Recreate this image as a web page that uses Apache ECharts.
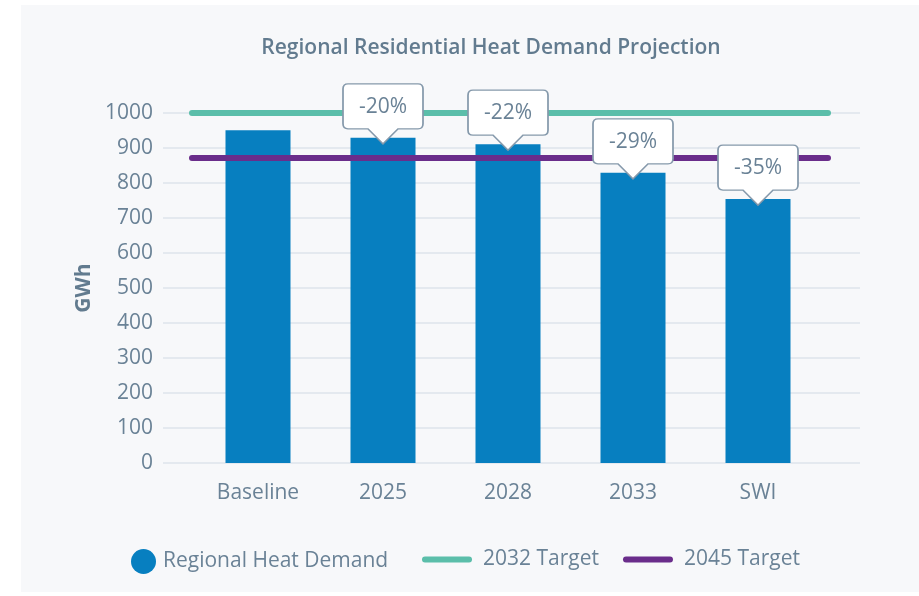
<!DOCTYPE html>
<html>
<head>
<meta charset="utf-8">
<script src="https://cdn.jsdelivr.net/npm/echarts@6/dist/echarts.min.js"></script>
<style>
  html, body { margin: 0; padding: 0; background: #fff; }
  #chart { width: 919px; height: 596px; }
</style>
</head>
<body>
<div id="chart"></div>
<script>
// heat demand projection chart
const categories = ['Baseline', '2025', '2028', '2033', 'SWI']
const demand = [951, 929, 911, 829, 754]
const changeLabels = ['', '-20%', '-22%', '-29%', '-35%']
const target2032 = 1000
const target2045 = 872
const yTicks = { min: 0, max: 1000, interval: 100 }

const textColor = '#6a8296'
const font = 'Open Sans'

// callout box: 80x45 with a pointer 15 tall
const calloutPath = 'path://M5,0 L75,0 Q80,0 80,5 L80,40 Q80,45 75,45 L55,45 L40,60 L25,45 L5,45 Q0,45 0,40 L0,5 Q0,0 5,0 Z'
// thick rounded line for the target legend items
const lineIcon = 'path://M3,0 L47,0 Q50,0 50,3 Q50,6 47,6 L3,6 Q0,6 0,3 Q0,0 3,0 Z'

const chart = echarts.init(document.getElementById('chart'))

const calloutData = categories
  .map((c, i) => ({ name: c, value: changeLabels[i], coord: [c, demand[i]] }))
  .filter(d => d.value !== '')

const option = {
  backgroundColor: '#ffffff',
  animation: false,
  textStyle: { fontFamily: font },
  graphic: [{
    type: 'rect',
    shape: { x: 21, y: 5, width: 898, height: 587 },
    style: { fill: '#f7f8fa' },
    z: -10
  }],
  title: {
    text: 'Regional Residential Heat Demand Projection',
    left: 486,
    textAlign: 'center',
    top: 33,
    textStyle: { fontFamily: font, fontSize: 21, fontWeight: 600, color: '#627b8f' }
  },
  legend: [{
    left: 126,
    top: 544,
    data: ['Regional Heat Demand'],
    icon: 'circle',
    itemWidth: 25,
    itemHeight: 25,
    textStyle: { fontFamily: font, fontSize: 21, color: textColor, padding: [0, 0, 0, 2] }
  }, {
    left: 417,
    top: 544,
    data: [
      { name: '2032 Target', icon: lineIcon },
      { name: '2045 Target', icon: lineIcon }
    ],
    itemWidth: 50,
    itemHeight: 25,
    itemGap: 24,
    textStyle: { fontFamily: font, fontSize: 21, color: textColor, padding: [0, 0, 0, 6] }
  }],
  grid: [
    { left: 163, right: 59, top: 113, bottom: 133 },
    { left: 195.5, right: 98.5, top: 113, bottom: 133 },
    { left: 192, right: 91, top: 113, bottom: 133 }
  ],
  xAxis: [
    { gridIndex: 0, type: 'value', show: false },
    {
      gridIndex: 1,
      type: 'category',
      data: categories,
      axisLine: { show: false },
      axisTick: { show: false },
      axisLabel: { margin: 20, fontFamily: font, fontSize: 21, color: textColor }
    },
    { gridIndex: 2, type: 'value', show: false, min: 0, max: 1 }
  ],
  yAxis: [
    {
      gridIndex: 0,
      type: 'value',
      min: yTicks.min,
      max: yTicks.max,
      interval: yTicks.interval,
      name: 'GWh',
      nameLocation: 'middle',
      nameGap: 54,
      nameTextStyle: { fontFamily: font, fontSize: 21, fontWeight: 'bold', color: '#627b8f' },
      axisLine: { show: false },
      axisTick: { show: false },
      axisLabel: { margin: 10, fontFamily: font, fontSize: 21, color: textColor, formatter: v => String(v) },
      splitLine: { lineStyle: { color: '#e4e9ef', width: 2 } }
    },
    { gridIndex: 1, type: 'value', min: yTicks.min, max: yTicks.max, show: false },
    { gridIndex: 2, type: 'value', min: yTicks.min, max: yTicks.max, show: false }
  ],
  series: [
    {
      name: 'Regional Heat Demand',
      type: 'bar',
      xAxisIndex: 1,
      yAxisIndex: 1,
      data: demand,
      barWidth: 65,
      itemStyle: { color: '#077fc0' },
      z: 2,
      markPoint: {
        z: 10,
        symbol: calloutPath,
        symbolSize: [80, 60],
        symbolOffset: [0, -24],
        itemStyle: { color: '#ffffff', borderColor: '#8599ab', borderWidth: 1.5 },
        label: {
          show: true,
          offset: [0, -7],
          formatter: p => p.value,
          fontFamily: font,
          fontSize: 21,
          color: textColor
        },
        data: calloutData
      }
    },
    {
      name: '2032 Target',
      type: 'line',
      xAxisIndex: 2,
      yAxisIndex: 2,
      data: [],
      symbol: 'none',
      color: '#5bbeaa',
      lineStyle: { width: 6, color: '#5bbeaa', cap: 'round' },
      z: 3,
      markLine: {
        z: 3,
        silent: true,
        symbol: 'none',
        label: { show: false },
        lineStyle: { type: 'solid', width: 6, color: '#5bbeaa', cap: 'round' },
        data: [{ yAxis: target2032 }]
      }
    },
    {
      name: '2045 Target',
      type: 'line',
      xAxisIndex: 2,
      yAxisIndex: 2,
      data: [],
      symbol: 'none',
      color: '#6a2d8b',
      lineStyle: { width: 6, color: '#6a2d8b', cap: 'round' },
      z: 3,
      markLine: {
        z: 3,
        silent: true,
        symbol: 'none',
        label: { show: false },
        lineStyle: { type: 'solid', width: 6, color: '#6a2d8b', cap: 'round' },
        data: [{ yAxis: target2045 }]
      }
    }
  ]
}

chart.setOption(option)
</script>
</body>
</html>
